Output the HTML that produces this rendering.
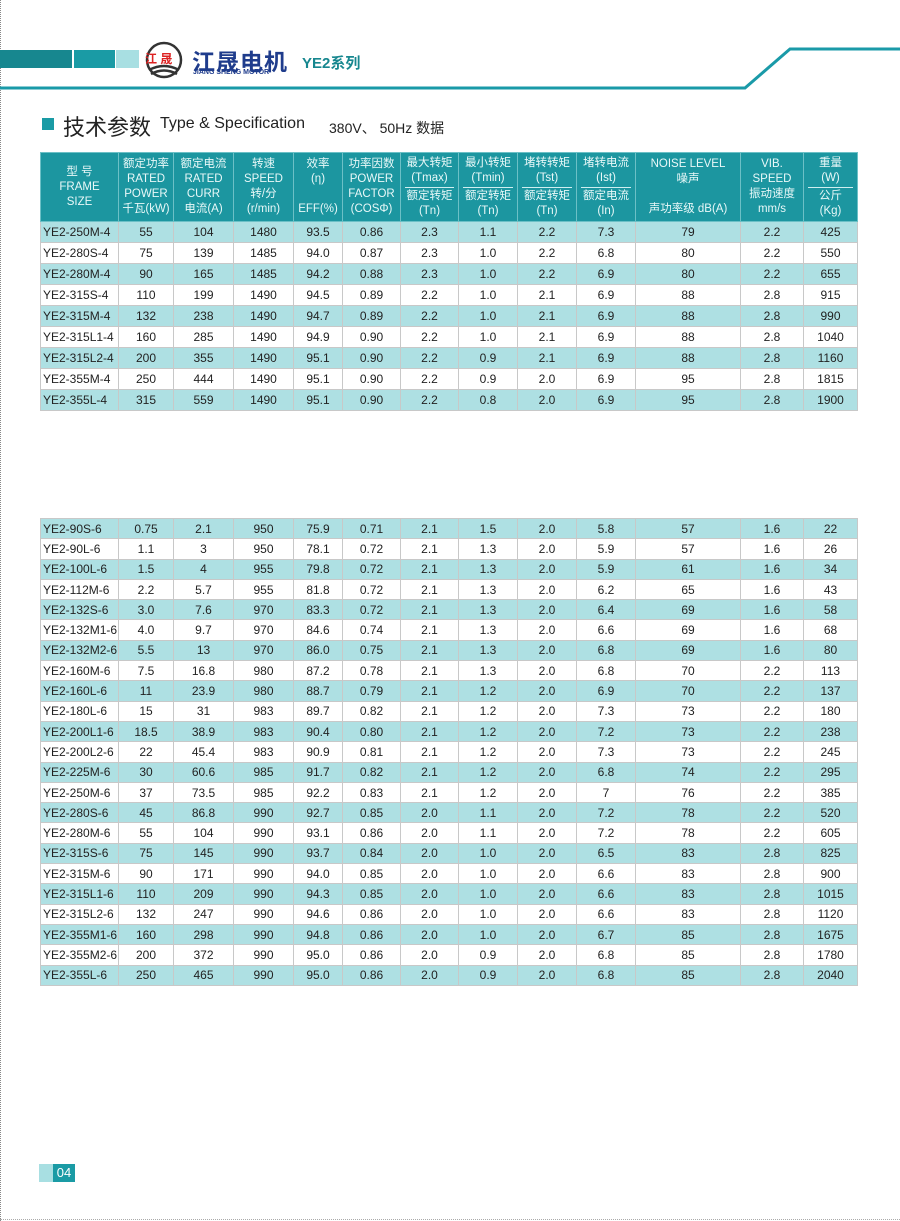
<!DOCTYPE html>
<html><head><meta charset="utf-8"><style>
*{margin:0;padding:0;box-sizing:border-box}
body{width:900px;height:1221px;position:relative;background:#fff;font-family:"Liberation Sans","Noto Sans CJK SC",sans-serif;overflow:hidden}
.a{position:absolute}
table{position:absolute;left:40px;border-collapse:collapse;table-layout:fixed;width:817px}
td{border:1px solid #c8c8c8;text-align:center;font-size:12px;color:#222;padding:0;white-space:nowrap;overflow:hidden}
td:first-child{text-align:left;padding-left:2px}
tr.l td{background:#aee0e3}
tr.h td{background:#1c96a0;color:#e8f8f8;font-size:11.5px;line-height:15px;vertical-align:middle;border-color:#6cc0c6}
tr.h td:first-child{text-align:center;padding:0}
.hr{border-top:1px solid #cfeff0;margin:1px 4px}
.b tr td{height:20.3px;line-height:18px}
</style></head><body>
<div class="a" style="left:0;top:0;width:1px;height:1221px;border-left:1px dotted #888"></div>
<div class="a" style="left:0;top:1219px;width:900px;height:1px;border-top:1px dotted #aaa"></div>
<div class="a" style="left:0;top:50px;width:72px;height:18px;background:#17878f"></div>
<div class="a" style="left:74px;top:50px;width:41px;height:18px;background:#1a9ba5"></div>
<div class="a" style="left:116px;top:50px;width:23px;height:18px;background:#a8dfe2"></div>
<svg class="a" style="left:0;top:0" width="900" height="100">
<circle cx="164" cy="60" r="17" fill="none" stroke="#333" stroke-width="2.5"/>
<path d="M149 70 Q164 62 179 70 M151 74 Q164 67 177 74" stroke="#333" stroke-width="2.5" fill="none"/>
<polyline points="0,88 745,88 790,49 900,49" fill="none" stroke="#1a9aa8" stroke-width="3"/>
</svg>
<div class="a" style="left:145px;top:50px;font-size:12px;color:#d22;font-weight:bold">江&nbsp;晟</div>
<div class="a" style="left:192px;top:43px;font-size:23px;font-weight:bold;color:#1f3c8c;letter-spacing:1px">江晟电机</div>
<div class="a" style="left:193px;top:69px;font-size:7px;font-weight:bold;color:#1f3c8c">JIANG SHENG MOTOR</div>
<div class="a" style="left:302px;top:52px;font-size:15px;font-weight:bold;color:#17878f">YE2系列</div>
<div class="a" style="left:42px;top:118px;width:12px;height:12px;background:#1a9ba5"></div>
<div class="a" style="left:63px;top:110px;font-size:22px;color:#222">技术参数</div>
<div class="a" style="left:160px;top:115px;font-size:16px;color:#222">Type &amp; Specification</div>
<div class="a" style="left:329px;top:118px;font-size:14px;color:#222">380V、 50Hz 数据</div>

<table style="top:152px">
<colgroup><col style="width:78px"><col style="width:55px"><col style="width:60px"><col style="width:60px"><col style="width:49px"><col style="width:58px"><col style="width:58px"><col style="width:59px"><col style="width:59px"><col style="width:59px"><col style="width:105px"><col style="width:63px"><col style="width:54px"></colgroup>
<tr class="h" style="height:69px"><td>型 号<br>FRAME<br>SIZE</td><td>额定功率<br>RATED<br>POWER<br>千瓦(kW)</td><td>额定电流<br>RATED<br>CURR<br>电流(A)</td><td>转速<br>SPEED<br>转/分<br>(r/min)</td><td>效率<br>(η)<br><br>EFF(%)</td><td>功率因数<br>POWER<br>FACTOR<br>(COSΦ)</td><td>最大转矩<br>(Tmax)<div class="hr"></div>额定转矩<br>(Tn)</td><td>最小转矩<br>(Tmin)<div class="hr"></div>额定转矩<br>(Tn)</td><td>堵转转矩<br>(Tst)<div class="hr"></div>额定转矩<br>(Tn)</td><td>堵转电流<br>(Ist)<div class="hr"></div>额定电流<br>(In)</td><td>NOISE LEVEL<br>噪声<br><br>声功率级 dB(A)</td><td>VIB.<br>SPEED<br>振动速度<br>mm/s</td><td>重量<br>(W)<div class="hr"></div>公斤<br>(Kg)</td></tr>
<tr class="l" style="height:21px"><td>YE2-250M-4</td><td>55</td><td>104</td><td>1480</td><td>93.5</td><td>0.86</td><td>2.3</td><td>1.1</td><td>2.2</td><td>7.3</td><td>79</td><td>2.2</td><td>425</td></tr>
<tr style="height:21px"><td>YE2-280S-4</td><td>75</td><td>139</td><td>1485</td><td>94.0</td><td>0.87</td><td>2.3</td><td>1.0</td><td>2.2</td><td>6.8</td><td>80</td><td>2.2</td><td>550</td></tr>
<tr class="l" style="height:21px"><td>YE2-280M-4</td><td>90</td><td>165</td><td>1485</td><td>94.2</td><td>0.88</td><td>2.3</td><td>1.0</td><td>2.2</td><td>6.9</td><td>80</td><td>2.2</td><td>655</td></tr>
<tr style="height:21px"><td>YE2-315S-4</td><td>110</td><td>199</td><td>1490</td><td>94.5</td><td>0.89</td><td>2.2</td><td>1.0</td><td>2.1</td><td>6.9</td><td>88</td><td>2.8</td><td>915</td></tr>
<tr class="l" style="height:21px"><td>YE2-315M-4</td><td>132</td><td>238</td><td>1490</td><td>94.7</td><td>0.89</td><td>2.2</td><td>1.0</td><td>2.1</td><td>6.9</td><td>88</td><td>2.8</td><td>990</td></tr>
<tr style="height:21px"><td>YE2-315L1-4</td><td>160</td><td>285</td><td>1490</td><td>94.9</td><td>0.90</td><td>2.2</td><td>1.0</td><td>2.1</td><td>6.9</td><td>88</td><td>2.8</td><td>1040</td></tr>
<tr class="l" style="height:21px"><td>YE2-315L2-4</td><td>200</td><td>355</td><td>1490</td><td>95.1</td><td>0.90</td><td>2.2</td><td>0.9</td><td>2.1</td><td>6.9</td><td>88</td><td>2.8</td><td>1160</td></tr>
<tr style="height:21px"><td>YE2-355M-4</td><td>250</td><td>444</td><td>1490</td><td>95.1</td><td>0.90</td><td>2.2</td><td>0.9</td><td>2.0</td><td>6.9</td><td>95</td><td>2.8</td><td>1815</td></tr>
<tr class="l" style="height:21px"><td>YE2-355L-4</td><td>315</td><td>559</td><td>1490</td><td>95.1</td><td>0.90</td><td>2.2</td><td>0.8</td><td>2.0</td><td>6.9</td><td>95</td><td>2.8</td><td>1900</td></tr>
</table>

<table class="b" style="top:518px">
<colgroup><col style="width:78px"><col style="width:55px"><col style="width:60px"><col style="width:60px"><col style="width:49px"><col style="width:58px"><col style="width:58px"><col style="width:59px"><col style="width:59px"><col style="width:59px"><col style="width:105px"><col style="width:63px"><col style="width:54px"></colgroup>
<tr class="l"><td>YE2-90S-6</td><td>0.75</td><td>2.1</td><td>950</td><td>75.9</td><td>0.71</td><td>2.1</td><td>1.5</td><td>2.0</td><td>5.8</td><td>57</td><td>1.6</td><td>22</td></tr>
<tr><td>YE2-90L-6</td><td>1.1</td><td>3</td><td>950</td><td>78.1</td><td>0.72</td><td>2.1</td><td>1.3</td><td>2.0</td><td>5.9</td><td>57</td><td>1.6</td><td>26</td></tr>
<tr class="l"><td>YE2-100L-6</td><td>1.5</td><td>4</td><td>955</td><td>79.8</td><td>0.72</td><td>2.1</td><td>1.3</td><td>2.0</td><td>5.9</td><td>61</td><td>1.6</td><td>34</td></tr>
<tr><td>YE2-112M-6</td><td>2.2</td><td>5.7</td><td>955</td><td>81.8</td><td>0.72</td><td>2.1</td><td>1.3</td><td>2.0</td><td>6.2</td><td>65</td><td>1.6</td><td>43</td></tr>
<tr class="l"><td>YE2-132S-6</td><td>3.0</td><td>7.6</td><td>970</td><td>83.3</td><td>0.72</td><td>2.1</td><td>1.3</td><td>2.0</td><td>6.4</td><td>69</td><td>1.6</td><td>58</td></tr>
<tr><td>YE2-132M1-6</td><td>4.0</td><td>9.7</td><td>970</td><td>84.6</td><td>0.74</td><td>2.1</td><td>1.3</td><td>2.0</td><td>6.6</td><td>69</td><td>1.6</td><td>68</td></tr>
<tr class="l"><td>YE2-132M2-6</td><td>5.5</td><td>13</td><td>970</td><td>86.0</td><td>0.75</td><td>2.1</td><td>1.3</td><td>2.0</td><td>6.8</td><td>69</td><td>1.6</td><td>80</td></tr>
<tr><td>YE2-160M-6</td><td>7.5</td><td>16.8</td><td>980</td><td>87.2</td><td>0.78</td><td>2.1</td><td>1.3</td><td>2.0</td><td>6.8</td><td>70</td><td>2.2</td><td>113</td></tr>
<tr class="l"><td>YE2-160L-6</td><td>11</td><td>23.9</td><td>980</td><td>88.7</td><td>0.79</td><td>2.1</td><td>1.2</td><td>2.0</td><td>6.9</td><td>70</td><td>2.2</td><td>137</td></tr>
<tr><td>YE2-180L-6</td><td>15</td><td>31</td><td>983</td><td>89.7</td><td>0.82</td><td>2.1</td><td>1.2</td><td>2.0</td><td>7.3</td><td>73</td><td>2.2</td><td>180</td></tr>
<tr class="l"><td>YE2-200L1-6</td><td>18.5</td><td>38.9</td><td>983</td><td>90.4</td><td>0.80</td><td>2.1</td><td>1.2</td><td>2.0</td><td>7.2</td><td>73</td><td>2.2</td><td>238</td></tr>
<tr><td>YE2-200L2-6</td><td>22</td><td>45.4</td><td>983</td><td>90.9</td><td>0.81</td><td>2.1</td><td>1.2</td><td>2.0</td><td>7.3</td><td>73</td><td>2.2</td><td>245</td></tr>
<tr class="l"><td>YE2-225M-6</td><td>30</td><td>60.6</td><td>985</td><td>91.7</td><td>0.82</td><td>2.1</td><td>1.2</td><td>2.0</td><td>6.8</td><td>74</td><td>2.2</td><td>295</td></tr>
<tr><td>YE2-250M-6</td><td>37</td><td>73.5</td><td>985</td><td>92.2</td><td>0.83</td><td>2.1</td><td>1.2</td><td>2.0</td><td>7</td><td>76</td><td>2.2</td><td>385</td></tr>
<tr class="l"><td>YE2-280S-6</td><td>45</td><td>86.8</td><td>990</td><td>92.7</td><td>0.85</td><td>2.0</td><td>1.1</td><td>2.0</td><td>7.2</td><td>78</td><td>2.2</td><td>520</td></tr>
<tr><td>YE2-280M-6</td><td>55</td><td>104</td><td>990</td><td>93.1</td><td>0.86</td><td>2.0</td><td>1.1</td><td>2.0</td><td>7.2</td><td>78</td><td>2.2</td><td>605</td></tr>
<tr class="l"><td>YE2-315S-6</td><td>75</td><td>145</td><td>990</td><td>93.7</td><td>0.84</td><td>2.0</td><td>1.0</td><td>2.0</td><td>6.5</td><td>83</td><td>2.8</td><td>825</td></tr>
<tr><td>YE2-315M-6</td><td>90</td><td>171</td><td>990</td><td>94.0</td><td>0.85</td><td>2.0</td><td>1.0</td><td>2.0</td><td>6.6</td><td>83</td><td>2.8</td><td>900</td></tr>
<tr class="l"><td>YE2-315L1-6</td><td>110</td><td>209</td><td>990</td><td>94.3</td><td>0.85</td><td>2.0</td><td>1.0</td><td>2.0</td><td>6.6</td><td>83</td><td>2.8</td><td>1015</td></tr>
<tr><td>YE2-315L2-6</td><td>132</td><td>247</td><td>990</td><td>94.6</td><td>0.86</td><td>2.0</td><td>1.0</td><td>2.0</td><td>6.6</td><td>83</td><td>2.8</td><td>1120</td></tr>
<tr class="l"><td>YE2-355M1-6</td><td>160</td><td>298</td><td>990</td><td>94.8</td><td>0.86</td><td>2.0</td><td>1.0</td><td>2.0</td><td>6.7</td><td>85</td><td>2.8</td><td>1675</td></tr>
<tr><td>YE2-355M2-6</td><td>200</td><td>372</td><td>990</td><td>95.0</td><td>0.86</td><td>2.0</td><td>0.9</td><td>2.0</td><td>6.8</td><td>85</td><td>2.8</td><td>1780</td></tr>
<tr class="l"><td>YE2-355L-6</td><td>250</td><td>465</td><td>990</td><td>95.0</td><td>0.86</td><td>2.0</td><td>0.9</td><td>2.0</td><td>6.8</td><td>85</td><td>2.8</td><td>2040</td></tr>
</table>

<div class="a" style="left:39px;top:1164px;width:14px;height:18px;background:#a8dfe2"></div>
<div class="a" style="left:53px;top:1164px;width:22px;height:18px;background:#1a9ba5;color:#fff;font-size:13px;line-height:18px;text-align:center">04</div>
</body></html>
